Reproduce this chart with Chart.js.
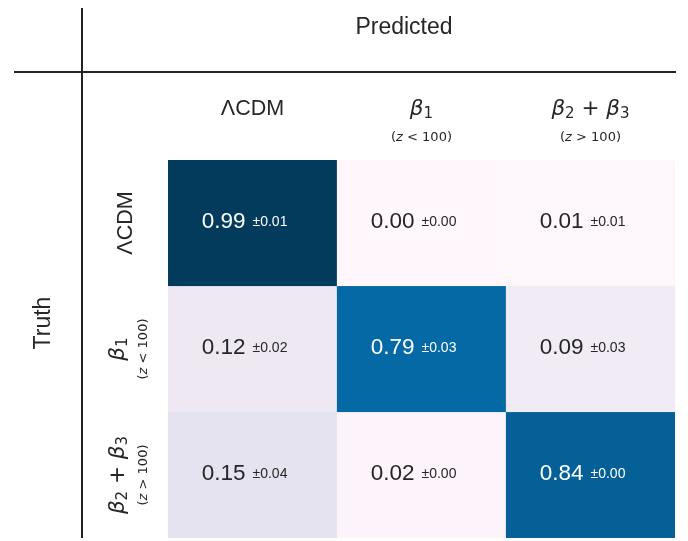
<!DOCTYPE html>
<html>
<head>
<meta charset="utf-8">
<script src="https://cdn.jsdelivr.net/npm/chart.js@4"></script>
<style>
  body { margin: 0; background: #ffffff; }
  #wrap { width: 688px; height: 541px; }
</style>
</head>
<body>
<div id="wrap"><canvas id="confusion" width="688" height="541"></canvas></div>
<script>
// ---- data ----
const classLabels = ['ΛCDM', 'β_1', 'β_2 + β_3'];
const classNotes = ['', 'z < 100', 'z > 100'];
// rows = truth, columns = predicted
const meanRow0 = [0.99, 0.00, 0.01];
const meanRow1 = [0.12, 0.79, 0.09];
const meanRow2 = [0.15, 0.02, 0.84];
const errRow0 = [0.01, 0.00, 0.01];
const errRow1 = [0.02, 0.03, 0.03];
const errRow2 = [0.04, 0.00, 0.00];
const meanRows = [meanRow0, meanRow1, meanRow2];
const errRows = [errRow0, errRow1, errRow2];

// matplotlib PuBu colormap stops
const puBu = ['#fff7fb', '#ece7f2', '#d0d1e6', '#a6bddb', '#74a9cf', '#3690c0', '#0570b0', '#045a8d', '#023858'];

function hexToRgb(h) {
    return [parseInt(h.slice(1, 3), 16), parseInt(h.slice(3, 5), 16), parseInt(h.slice(5, 7), 16)];
}

function cmap(v) {
    const t = Math.max(0, Math.min(1, v)) * (puBu.length - 1);
    const i = Math.min(Math.floor(t), puBu.length - 2);
    const f = t - i;
    const a = hexToRgb(puBu[i]), b = hexToRgb(puBu[i + 1]);
    const c = a.map((x, k) => Math.round(x + (b[k] - x) * f));
    return 'rgb(' + c.join(',') + ')';
}

function isDark(v) {
    const c = cmap(v).match(/\d+/g).map(Number).map(x => {
        x /= 255;
        return x <= 0.03928 ? x / 12.92 : Math.pow((x + 0.055) / 1.055, 2.4);
    });
    return 0.2126 * c[0] + 0.7152 * c[1] + 0.0722 * c[2] < 0.408;
}

const nRows = meanRows.length;
const TEXT = '#262626';
const SANS = '"Liberation Sans", Arial, sans-serif';
const MATH = '"DejaVu Sans", sans-serif';

// turn a label like 'β_2 + β_3' into drawable pieces
function labelPieces(label, size) {
    const out = [];
    let i = 0;
    while (i < label.length) {
        const ch = label[i];
        if (ch === 'β') {
            out.push({ t: 'β', f: 'italic ' + size + 'px ' + MATH, dy: 0 });
            i++;
        } else if (ch === '_') {
            out.push({ t: label[i + 1], f: Math.round(size * 0.68) + 'px ' + MATH, dy: 3 });
            i += 2;
        } else {
            let j = i;
            while (j < label.length && label[j] !== 'β' && label[j] !== '_') j++;
            const txt = label.slice(i, j);
            const font = label.indexOf('β') >= 0 ? MATH : SANS;
            out.push({ t: txt, f: size + 'px ' + font, dy: 0 });
            i = j;
        }
    }
    return out;
}

function notePieces(note, size) {
    if (!note) return [];
    return [
        { t: '(', f: size + 'px ' + MATH, dy: 0 },
        { t: note[0], f: 'italic ' + size + 'px ' + MATH, dy: 0 },
        { t: note.slice(1) + ')', f: size + 'px ' + MATH, dy: 0 }
    ];
}

function drawPieces(ctx, pieces, x, y, rotate) {
    ctx.save();
    ctx.translate(x, y);
    if (rotate) ctx.rotate(-Math.PI / 2);
    ctx.textBaseline = 'alphabetic';
    ctx.textAlign = 'left';
    let w = 0;
    pieces.forEach(p => { ctx.font = p.f; w += ctx.measureText(p.t).width; });
    let cx = -w / 2;
    pieces.forEach(p => {
        ctx.font = p.f;
        ctx.fillText(p.t, cx, p.dy);
        cx += ctx.measureText(p.t).width;
    });
    ctx.restore();
}

// one dataset per truth row, each cell a floating bar spanning one unit of y
const datasets = meanRows.map((row, r) => ({
    label: classLabels[r],
    data: row.map(() => [nRows - r - 1, nRows - r]),
    backgroundColor: row.map(v => cmap(v)),
    borderColor: row.map(v => cmap(v)),
    borderWidth: 0.6,
    borderSkipped: false,
    grouped: false,
    barPercentage: 1,
    categoryPercentage: 1
}));

const annotatePlugin = {
    id: 'annotate',
    afterDatasetsDraw(chart) {
        const ctx = chart.ctx;
        const xs = chart.scales.x, ys = chart.scales.y;

        // cell annotations
        chart.data.datasets.forEach((ds, r) => {
            chart.getDatasetMeta(r).data.forEach((bar, c) => {
                const cx = bar.x;
                const cy = (bar.y + bar.base) / 2;
                const v = meanRows[r][c];
                ctx.save();
                ctx.fillStyle = isDark(v) ? '#ffffff' : TEXT;
                ctx.textBaseline = 'alphabetic';
                ctx.font = '22.5px ' + SANS;
                ctx.textAlign = 'right';
                ctx.fillText(v.toFixed(2), cx - 7, cy + 5);
                ctx.font = '14px ' + SANS;
                ctx.textAlign = 'left';
                ctx.fillText('±' + errRows[r][c].toFixed(2), cx, cy + 3);
                ctx.restore();
            });
        });

        ctx.save();
        ctx.fillStyle = TEXT;

        // column headers (predicted)
        classLabels.forEach((lab, c) => {
            const x = xs.getPixelForValue(c);
            drawPieces(ctx, labelPieces(lab, 21.5), x, 115, false);
            drawPieces(ctx, notePieces(classNotes[c], 13), x, 141, false);
        });

        // row headers (truth)
        classLabels.forEach((lab, r) => {
            const y = ys.getPixelForValue(nRows - r - 0.5);
            drawPieces(ctx, labelPieces(lab, 21.5), r === 0 ? 132 : 124, y, true);
            drawPieces(ctx, notePieces(classNotes[r], 13), 147, y, true);
        });

        // axis titles
        ctx.font = '23px ' + SANS;
        ctx.textAlign = 'center';
        ctx.textBaseline = 'alphabetic';
        ctx.fillText('Predicted', 404, 34);
        ctx.save();
        ctx.translate(50, 323);
        ctx.rotate(-Math.PI / 2);
        ctx.fillText('Truth', 0, 0);
        ctx.restore();

        // separator lines
        ctx.strokeStyle = '#222222';
        ctx.lineWidth = 2;
        ctx.beginPath();
        ctx.moveTo(14, 72);
        ctx.lineTo(676, 72);
        ctx.moveTo(82, 8);
        ctx.lineTo(82, 538);
        ctx.stroke();
        ctx.restore();
    }
};

new Chart(document.getElementById('confusion'), {
    type: 'bar',
    data: {
        labels: classLabels,
        datasets: datasets
    },
    options: {
        responsive: false,
        animation: false,
        layout: { padding: { left: 168, right: 13, top: 160, bottom: 3 } },
        plugins: {
            legend: { display: false },
            tooltip: { enabled: false }
        },
        scales: {
            x: { type: 'category', display: false, offset: true },
            y: { type: 'linear', display: false, min: 0, max: nRows }
        }
    },
    plugins: [annotatePlugin]
});
</script>
</body>
</html>
